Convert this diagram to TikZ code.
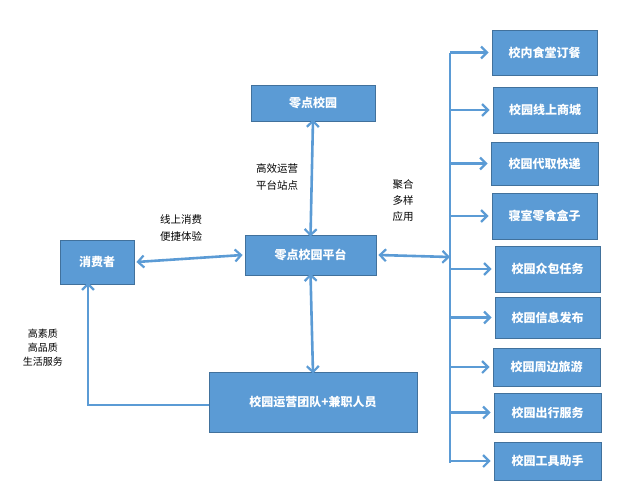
\documentclass[tikz,border=0pt]{standalone}
\usepackage{fontspec}
\setmainfont{Noto Sans CJK SC}
\usetikzlibrary{arrows.meta}
\begin{document}
\definecolor{bfill}{HTML}{5B9BD5}
\definecolor{bline}{HTML}{41719C}
\begin{tikzpicture}[x=1pt,y=-1pt,
  box/.style={draw=bline,fill=bfill,line width=0.8pt,text=white,font=\fontsize{12}{14}\selectfont\bfseries,inner sep=0pt},
  lab/.style={font=\fontsize{10.5}{13}\selectfont,align=center,inner sep=0pt},
  arr/.style={draw=bfill,line width=2.6pt,-{Straight Barb[length=6pt,width=12pt,line width=2.2pt]}},
  darr/.style={draw=bfill,line width=2.6pt,{Straight Barb[length=6pt,width=12pt,line width=2.2pt]}-{Straight Barb[length=6pt,width=12pt,line width=2.2pt]}}]
\useasboundingbox (0,0) rectangle (640,501);
\newcommand{\bx}[6]{\node[box,minimum width=#4-#2,minimum height=#5-#3] (#1) at ({(#2+#4)/2},{(#3+#5)/2}) {#6};}
\bx{top}{251}{85}{375}{121}{零点校园}
\bx{plat}{245}{235}{376}{275}{零点校园平台}
\bx{cons}{60}{240}{134}{284}{消费者}
\bx{team}{209}{372}{417}{432}{校园运营团队+兼职人员}
\bx{r1}{492}{30}{597}{75}{校内食堂订餐}
\bx{r2}{493}{87}{597}{133}{校园线上商城}
\bx{r3}{491}{142}{598}{185}{校园代取快递}
\bx{r4}{492}{193}{597}{239}{寝室零食盒子}
\bx{r5}{495}{246}{600}{292}{校园众包任务}
\bx{r6}{495}{297}{600}{338}{校园信息发布}
\bx{r7}{493}{348}{600}{386}{校园周边旅游}
\bx{r8}{494}{393}{601}{432}{校园出行服务}
\bx{r9}{494}{442}{601}{480}{校园工具助手}
\coordinate (tt) at (450,53);
\coordinate (tb) at (450,463);
\coordinate (tm) at (450,257);
\coordinate (corner) at (88,405);
\draw[bfill,line width=2.6pt] (tt) -- (tb);
\foreach \i in {1,...,9}{\draw[arr] (tt |- r\i.west) -- ([xshift=-3pt]r\i.west);}
\draw[darr] ([xshift=2pt]plat.east) -- (tm);
\draw[darr] ([yshift=2pt]top.south) -- ([yshift=-2pt]plat.north);
\draw[darr] ([yshift=2pt]plat.south) -- ([yshift=-2pt]team.north);
\draw[darr] ([xshift=2pt]cons.east) -- ([xshift=-2pt]plat.west);
\draw[arr] (team.west |- corner) -- (corner) -- ([yshift=2pt]cons.south -| corner);
\node[lab] (l1) at (277,177) {高效运营\\[4pt]平台站点};
\node[lab] (l2) at (181,228) {线上消费\\[4pt]便捷体验};
\node[lab] (l3) at (403,201) {聚合\\[3pt]多样\\[3pt]应用};
\node[lab,font=\fontsize{10}{14}\selectfont] (l4) at (43,348) {高素质\\高品质\\生活服务};
\end{tikzpicture}
\end{document}
